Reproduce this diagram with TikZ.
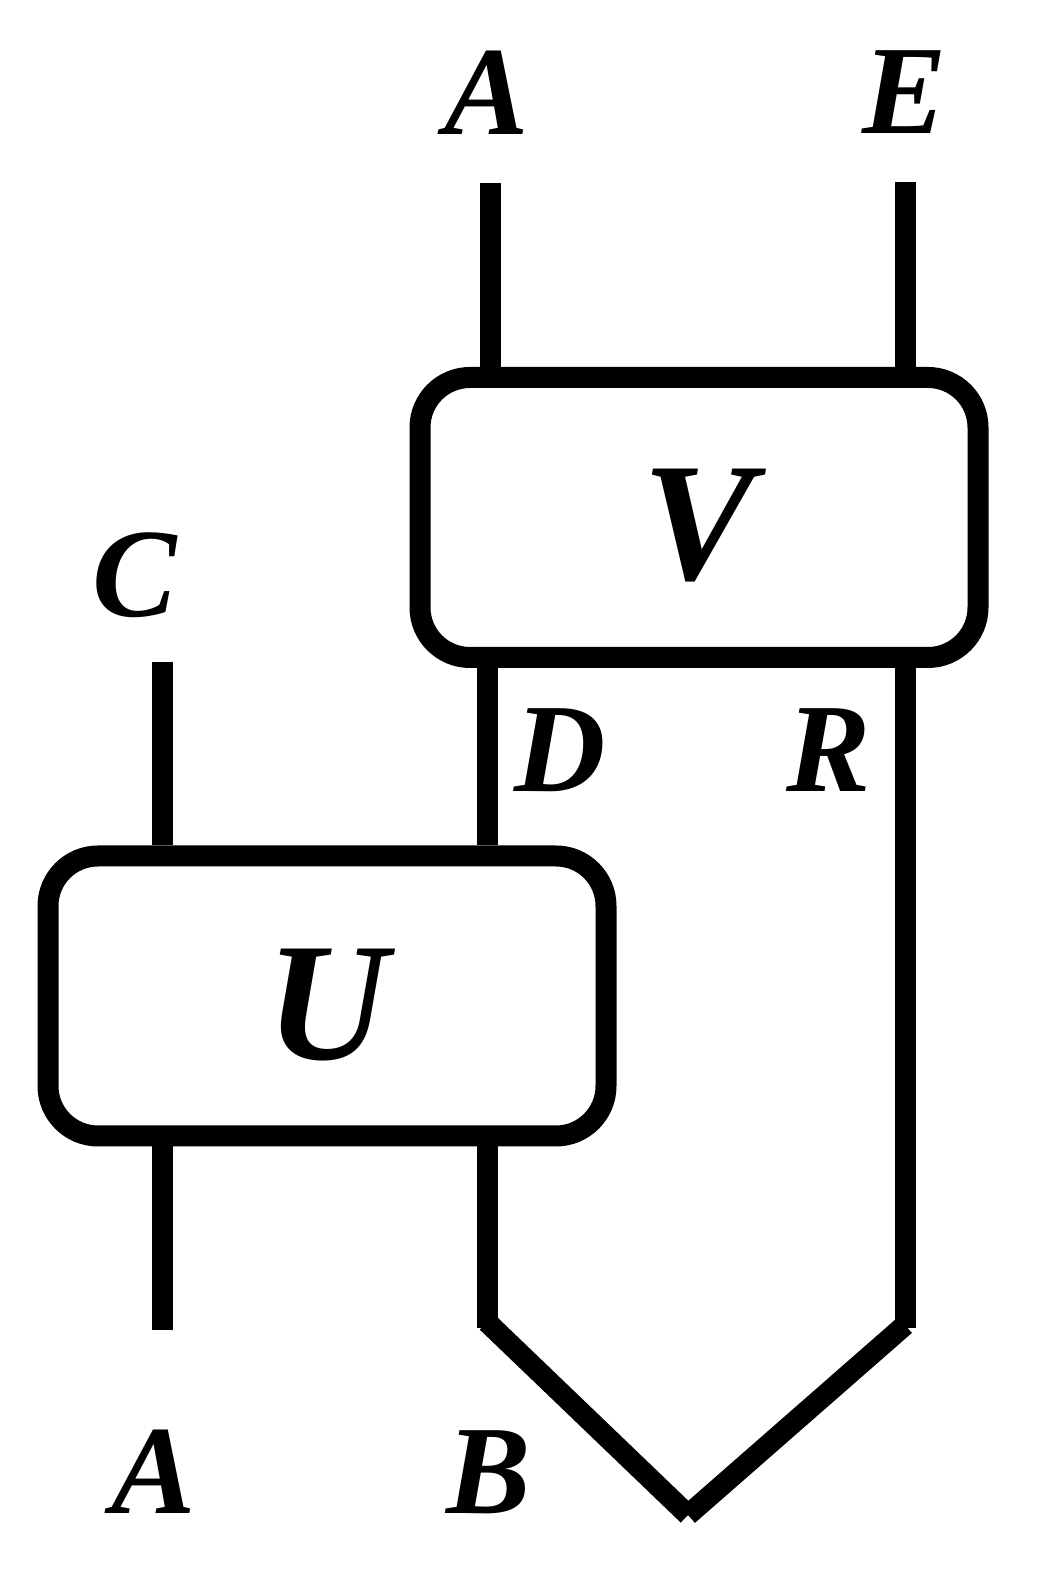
\documentclass[tikz,border=0pt]{standalone}
\usepackage{fontspec}
\setmainfont{Liberation Serif}
\tikzset{
	wire/.style={line width=2.1mm},
	gate/.style={draw, line width=2.1mm, rounded corners=5mm, minimum width=5.58cm, minimum height=2.80cm, inner sep=0pt, font=\fontsize{48}{48}\selectfont\bfseries\itshape},
	tag/.style={inner sep=0pt, font=\fontsize{36}{36}\selectfont\bfseries\itshape}
}
\begin{document}
\begin{tikzpicture}
			%%%%% START %%%%%
			\useasboundingbox (0, 0) rectangle (10.43, 15.76);
			
			\node[gate] (V) at (6.99, 10.585) {\raisebox{-0.07cm}[\height][0pt]{V}};
			\node[gate] (U) at (3.27, 5.80) {\raisebox{-0.08cm}[\height][0pt]{U}};
			
			\coordinate (Atop) at (4.90, 13.93);
			\coordinate (Etop) at (9.05, 13.94);
			\coordinate (Ctop) at (1.62, 9.14);
			\coordinate (Abot) at (1.62, 2.46);
			\coordinate (Bbot) at (4.87, 2.48);
			\coordinate (Rbot) at (9.05, 2.48);
			\coordinate (Bcup) at (4.87, 2.54);
			\coordinate (Rcup) at (9.05, 2.51);
			\coordinate (cup) at (6.88, 0.61);
			
			\draw[wire] (Atop) -- (Atop |- V.north);
			\draw[wire] (Etop) -- (Etop |- V.north);
			\draw[wire] (Bbot |- V.south) -- (Bbot |- U.north);
			\draw[wire] (Rbot |- V.south) -- (Rbot);
			\draw[wire] (Ctop) -- (Ctop |- U.north);
			\draw[wire] (Abot |- U.south) -- (Abot);
			\draw[wire] (Bbot |- U.south) -- (Bbot);
			
			\draw[wire] (Bcup) -- (cup);
			\draw[wire] (Rcup) -- (cup);
			
			\node[tag] (lAtop) at (4.87, 14.835) {A};
			\node[tag] (lEtop) at (9.05, 14.835) {E};
			\node[tag] (lC) at (1.35, 10.01) {C};
			\node[tag] (lD) at (5.60, 8.26) {D};
			\node[tag] (lR) at (8.29, 8.26) {R};
			\node[tag] (lAbot) at (1.54, 1.04) {A};
			\node[tag] (lB) at (4.89, 1.04) {B};
			
			%%%%% END %%%%%
		\end{tikzpicture}
\end{document}
